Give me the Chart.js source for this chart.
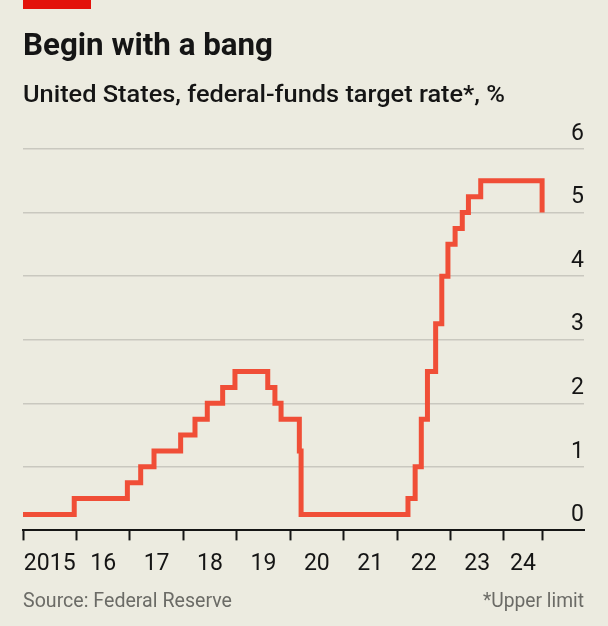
<!DOCTYPE html>
<html>
<head>
<meta charset="utf-8">
<script src="https://cdn.jsdelivr.net/npm/chart.js@4.4.1/dist/chart.umd.min.js"></script>
<style>
  html, body { margin: 0; padding: 0; background: #ecebe0; }
  canvas { display: block; }
</style>
</head>
<body>
<canvas id="rateChart" width="608" height="626"></canvas>
<script>
// -------------------- Data --------------------
// dates on which the upper limit changed (first entry = start of chart)
const changeDates = [
  "2015-01-01", "2015-12-17", "2016-12-15", "2017-03-16", "2017-06-15",
  "2017-12-14", "2018-03-22", "2018-06-14", "2018-09-27", "2018-12-20",
  "2019-08-01", "2019-09-19", "2019-10-31", "2020-03-04", "2020-03-16",
  "2022-03-17", "2022-05-05", "2022-06-16", "2022-07-28", "2022-09-22",
  "2022-11-03", "2022-12-15", "2023-02-02", "2023-03-23", "2023-05-04",
  "2023-07-27", "2024-09-19"
];
const upperLimit = [
  0.25, 0.5, 0.75, 1, 1.25,
  1.5, 1.75, 2, 2.25, 2.5,
  2.25, 2, 1.75, 1.25, 0.25,
  0.5, 1, 1.75, 2.5, 3.25,
  4, 4.5, 4.75, 5, 5.25,
  5.5, 5
];
const tickYears = [2015, 2016, 2017, 2018, 2019, 2020, 2021, 2022, 2023, 2024];
const yearLabels = ["2015", "16", "17", "18", "19", "20", "21", "22", "23", "24"];
const yTicks = [0, 1, 2, 3, 4, 5, 6];

const RED = "#f04e37";
const INK = "#151515";

// -------------------- Helpers --------------------
function toYear(str) {
  const [y, m, d] = str.split("-").map(Number);
  const start = Date.UTC(y, 0, 1);
  const end = Date.UTC(y + 1, 0, 1);
  return y + (Date.UTC(y, m - 1, d) - start) / (end - start);
}

const points = changeDates.map((d, i) => ({ x: toYear(d), y: upperLimit[i] }));
const lastDate = toYear(changeDates[changeDates.length - 1]);

// tick marks at year starts + end of data, labels centred between them
const boundaries = tickYears.concat([lastDate]);
const labelAt = {};
for (let i = 0; i < yearLabels.length; i++) {
  labelAt[((boundaries[i] + boundaries[i + 1]) / 2).toFixed(4)] = yearLabels[i];
}
const isBoundary = (v) => boundaries.some(b => Math.abs(b - v) < 1e-6);

// text drawn at a given width (condensed face look)
function drawText(ctx, text, x, y, font, color, width, align) {
  ctx.save();
  ctx.font = font;
  ctx.fillStyle = color;
  ctx.textBaseline = "alphabetic";
  ctx.textAlign = "left";
  const w = ctx.measureText(text).width;
  const s = width ? width / w : 1;
  const left = align === "right" ? x - w * s : x;
  ctx.translate(left, y);
  ctx.scale(s, 1);
  ctx.fillText(text, 0, 0);
  ctx.restore();
}

// -------------------- Title, source, background --------------------
const chrome = {
  id: "chrome",
  beforeDraw(chart) {
    const ctx = chart.ctx;
    ctx.save();
    ctx.fillStyle = "#ecebe0";
    ctx.fillRect(0, 0, chart.width, chart.height);
    ctx.fillStyle = "#e3120b";
    ctx.fillRect(23, 0, 68, 9);
    ctx.restore();
  },
  afterDraw(chart) {
    const ctx = chart.ctx;
    drawText(ctx, "Begin with a bang", 23, 55, "bold 31px Roboto", INK, 250);
    drawText(ctx, "United States, federal-funds target rate*, %", 23, 102, "500 24px Roboto", INK, 482);
    drawText(ctx, "Source: Federal Reserve", 23, 607, "21px Roboto", "#6b6b66", 209);
    drawText(ctx, "*Upper limit", 584, 607, "21px Roboto", "#6b6b66", 101, "right");
  }
};

// -------------------- Chart --------------------
new Chart(document.getElementById("rateChart"), {
  type: "line",
  data: {
    datasets: [{
      data: points,
      stepped: true,
      borderColor: RED,
      borderWidth: 5,
      borderJoinStyle: "miter",
      borderCapStyle: "butt",
      pointRadius: 0,
      fill: false
    }]
  },
  options: {
    responsive: false,
    animation: false,
    layout: { padding: { left: 23, right: 24, top: 149, bottom: 38 } },
    plugins: {
      legend: { display: false },
      tooltip: { enabled: false }
    },
    scales: {
      x: {
        type: "linear",
        min: 2015,
        max: 2025.5,
        afterBuildTicks: (scale) => {
          const vals = boundaries.concat(Object.keys(labelAt).map(Number));
          vals.sort((a, b) => a - b);
          scale.ticks = vals.map(v => ({ value: v }));
        },
        ticks: {
          autoSkip: false,
          maxRotation: 0,
          padding: 10,
          color: INK,
          font: { family: "Roboto", size: 23 },
          callback: (v) => labelAt[Number(v).toFixed(4)] || ""
        },
        grid: {
          drawOnChartArea: false,
          tickLength: 10,
          tickWidth: 2,
          tickColor: (c) => (c.tick && isBoundary(c.tick.value)) ? INK : "rgba(0,0,0,0)"
        },
        border: { display: true, color: INK, width: 2 }
      },
      y: {
        position: "right",
        min: 0,
        max: 6,
        afterBuildTicks: (scale) => { scale.ticks = yTicks.map(v => ({ value: v })); },
        ticks: {
          mirror: true,
          padding: 0,
          labelOffset: -15,
          color: INK,
          font: { family: "Roboto", size: 23 }
        },
        grid: {
          drawTicks: false,
          lineWidth: 1.5,
          color: (c) => (c.tick && c.tick.value === 0) ? "rgba(0,0,0,0)" : "#c9c8bf"
        },
        border: { display: false }
      }
    }
  },
  plugins: [chrome]
});
</script>
</body>
</html>
